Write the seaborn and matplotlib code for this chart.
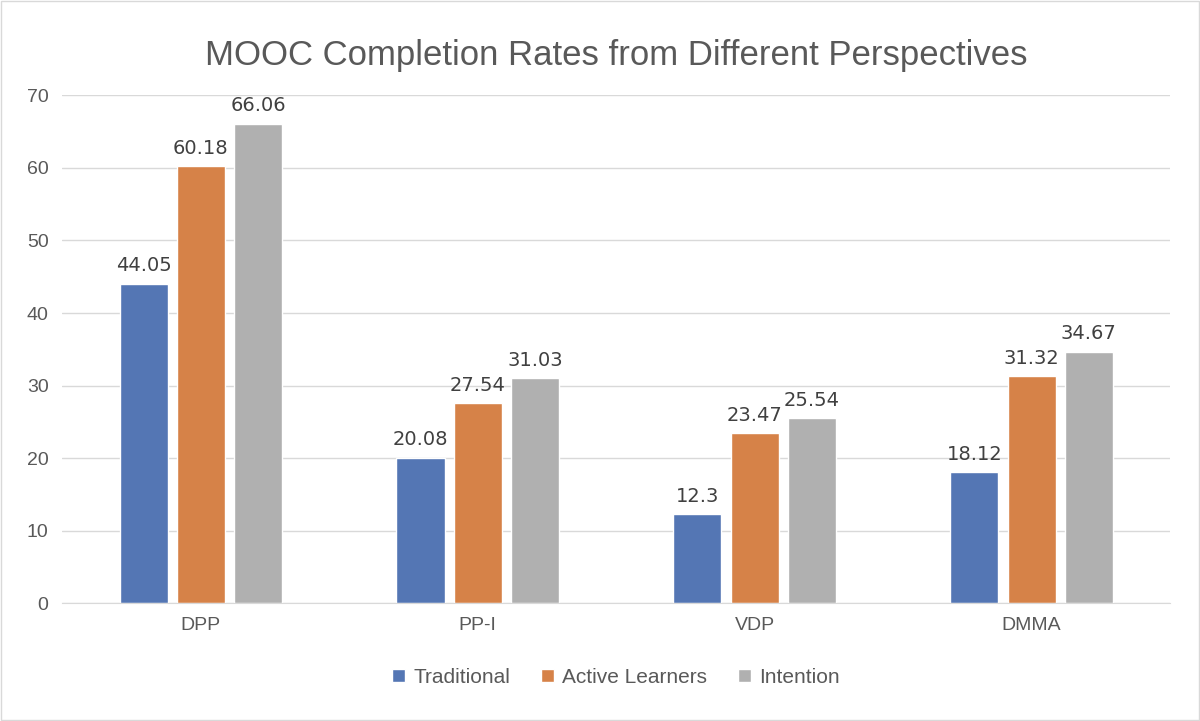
#%%
import matplotlib.pyplot as plt
import pandas as pd
import seaborn as sns

#%%
# 完成率数据
rate_df = pd.DataFrame({
    'perspective': ['DPP', 'PP-I', 'VDP', 'DMMA'] * 3,
    'group': ['Traditional'] * 4 + ['Active Learners'] * 4 + ['Intention'] * 4,
    'rate': [44.05, 20.08, 12.3, 18.12,
             60.18, 27.54, 23.47, 31.32,
             66.06, 31.03, 25.54, 34.67],
})

#%%
sns.set_style('white')
plt.rcParams['font.family'] = ['Liberation Sans', 'DejaVu Sans']

fig, ax = plt.subplots(figsize=(12, 7.21), dpi=100)
fig.subplots_adjust(left=0.052, right=0.975, top=0.868, bottom=0.163)

sns.barplot(data=rate_df, x='perspective', y='rate', hue='group',
            palette=['#4472C4', '#ED7D31', '#B0B0B0'],
            width=0.62, gap=0.16, ax=ax)

# 数据标签
for cont in ax.containers:
    ax.bar_label(cont, labels=[f'{v:g}' for v in cont.datavalues],
                 padding=6, fontsize=14, color='#404040', family='DejaVu Sans')

ax.set_ylim(0, 70)
ax.set_yticks(range(0, 71, 10))
ax.yaxis.grid(True, color='#D9D9D9', linewidth=1)
ax.set_axisbelow(True)
for side in ['left', 'right', 'top']:
    ax.spines[side].set_visible(False)
ax.spines['bottom'].set_color('#D9D9D9')
ax.tick_params(axis='both', length=0, labelsize=14, labelcolor='#595959', pad=10)
ax.set_xlabel('')
ax.set_ylabel('')
ax.set_title('MOOC Completion Rates from Different Perspectives',
             fontsize=25, color='#595959', pad=22)

ax.legend(loc='upper center', bbox_to_anchor=(0.5, -0.09), ncol=3, frameon=False,
          fontsize=15, handlelength=0.6, handleheight=0.6, columnspacing=1.5,
          handletextpad=0.4, labelcolor='#595959')

# 外边框
fig.patches.append(plt.Rectangle((0.001, 0.001), 0.998, 0.998, transform=fig.transFigure,
                                 fill=False, edgecolor='#D9D9D9', linewidth=1))

fig.savefig('out.png')
